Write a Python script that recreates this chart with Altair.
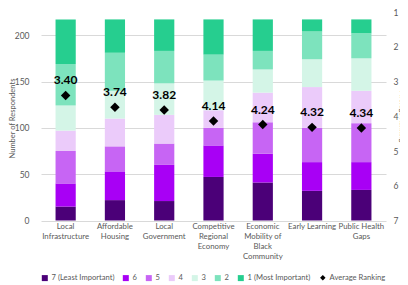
import altair as alt
import pandas as pd

categories = ["Local Infrastructure", "Affordable Housing", "Local Government",
              "Competitive Regional Economy", "Economic Mobility of Black Community",
              "Early Learning", "Public Health Gaps"]
cat_labels = ["Local|Infrastructure", "Affordable|Housing", "Local|Government",
              "Competitive|Regional|Economy", "Economic|Mobility of|Black|Community",
              "Early Learning", "Public Health|Gaps"]
ranks = ["7 (Least Important)", "6", "5", "4", "3", "2", "1 (Most Important)"]
# counts per rank (7 .. 1) for each category
counts = {
    "Local Infrastructure": [15, 25, 35, 22, 27, 45, 48],
    "Affordable Housing": [22, 31, 27, 30, 30, 41, 36],
    "Local Government": [21, 39, 23, 31, 34, 35, 34],
    "Competitive Regional Economy": [47, 34, 19, 19, 32, 28, 38],
    "Economic Mobility of Black Community": [41, 31, 34, 32, 25, 20, 34],
    "Early Learning": [32, 31, 37, 44, 30, 30, 13],
    "Public Health Gaps": [33, 30, 42, 35, 35, 27, 15],
}
avg_rank = [3.40, 3.74, 3.82, 4.14, 4.24, 4.32, 4.34]
colors = ["#4B0078", "#A800F5", "#C765F4", "#EBCBFA", "#D4F5E7", "#7DE3BD", "#26CE8F"]

rows = []
for c, lab in zip(categories, cat_labels):
    for i, (r, v) in enumerate(zip(ranks, counts[c])):
        rows.append({"cat": lab, "rank": r, "order": i, "count": v})
bars_df = pd.DataFrame(rows)
avg_df = pd.DataFrame({"cat": cat_labels, "avg": avg_rank, "series": "Average Ranking"})

FONT = "Lato"
GRAY = "#595959"

xenc = alt.X("cat:N", sort=cat_labels, title=None,
             scale=alt.Scale(paddingInner=0.59, paddingOuter=0.295),
             axis=alt.Axis(labelAngle=0, labelExpr="split(datum.label, '|')",
                           labelFontSize=7.8, labelLineHeight=10, labelColor=GRAY,
                           labelFont=FONT, labelPadding=6, ticks=False, domain=False,
                           labelBaseline="middle"))

bars = alt.Chart(bars_df).mark_bar().encode(
    x=xenc,
    y=alt.Y("count:Q", stack="zero", title="Number of Respondents",
            scale=alt.Scale(domain=[0, 225], nice=False),
            axis=alt.Axis(values=[0, 50, 100, 150, 200], grid=True, gridColor="#D9D9D9",
                          domain=False, ticks=False, labelColor=GRAY, labelFontSize=8.5,
                          labelFont=FONT, labelPadding=12, titleFont=FONT,
                          titleFontSize=7.5, titleFontWeight="normal", titleColor=GRAY,
                          titleX=-25, titleY=106)),
    color=alt.Color("rank:N", sort=ranks,
                    scale=alt.Scale(domain=ranks, range=colors),
                    legend=alt.Legend(title=None, orient="bottom", direction="horizontal",
                                      symbolType="square", symbolSize=36,
                                      symbolStrokeWidth=0, labelFontSize=7.6,
                                      labelColor=GRAY, labelFont=FONT, columnPadding=7,
                                      labelOffset=3, offset=13)),
    order=alt.Order("order:Q", sort="ascending"),
)

yscale = alt.Scale(domain=[1, 7], reverse=True, nice=False)
yavg = alt.Y("avg:Q", title="Average Ranking", scale=yscale,
             axis=alt.Axis(orient="right", values=[1, 2, 3, 4, 5, 6, 7], grid=False,
                           domain=False, ticks=False, labelColor=GRAY, labelFontSize=8.5,
                           labelFont=FONT, labelPadding=7, titleFont=FONT,
                           titleFontSize=7, titleFontWeight="normal", titleColor=GRAY,
                           titleAngle=90, titlePadding=1))

base = alt.Chart(avg_df).encode(x=alt.X("cat:N", sort=cat_labels), y=yavg)

points = base.mark_point(filled=True, color="black", size=90, opacity=1).encode(
    shape=alt.Shape("series:N", scale=alt.Scale(domain=["Average Ranking"], range=["diamond"]),
                    legend=alt.Legend(title=None, orient="bottom", symbolFillColor="black",
                                      symbolStrokeColor="black", symbolSize=30,
                                      labelFontSize=7.6, labelColor=GRAY, labelFont=FONT,
                                      labelOffset=3, offset=13)),
)

labels = base.mark_text(dy=-15, fontWeight="bold", fontSize=12,
                        font=FONT, color="black").encode(
    text=alt.Text("avg:Q", format=".2f"),
)

overlay = alt.layer(points, labels)

chart = alt.layer(bars, overlay).resolve_scale(
    y="independent", color="independent", shape="independent"
).properties(
    width=345, height=208.5,
    autosize=alt.AutoSizeParams(type="none"),
    padding={"left": 33, "top": 4, "right": 14, "bottom": 62},
).configure_view(stroke=None)

chart.save("out.html", embed_options={"renderer": "svg", "actions": False})
